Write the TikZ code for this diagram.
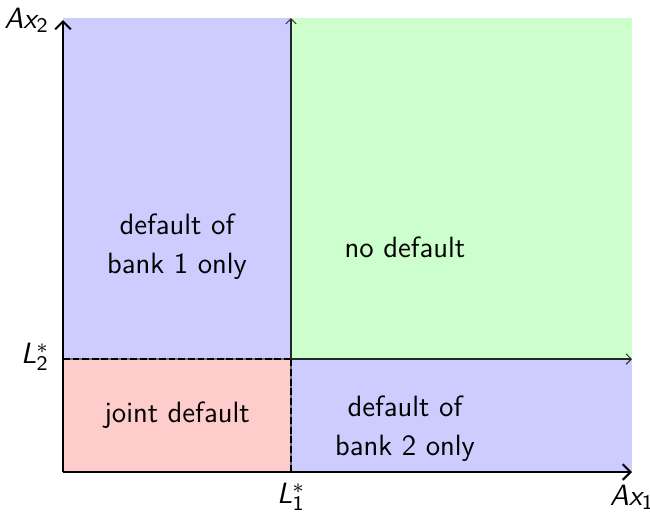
\documentclass[tikz,border=0pt]{standalone}
\usetikzlibrary{arrows.meta}
\definecolor{bluefill}{RGB}{204,204,255}
\definecolor{greenfill}{RGB}{204,255,204}
\definecolor{redfill}{RGB}{255,204,204}
\tikzset{
  axis/.style={thick,-{Straight Barb[length=3pt,width=6pt]}},
  thinarrow/.style={thin,black!85,-{Straight Barb[length=2pt,width=4pt]}},
  divider/.style={thin,dash pattern=on 2.6pt off 1.1pt},
  underline/.style={thin,black!55},
  region/.style={align=center,font=\fontsize{11.3}{15}\sffamily\selectfont},
  axlabel/.style={inner sep=1pt,font=\fontsize{11.3}{14}\sffamily\selectfont}
}
\begin{document}
\begin{tikzpicture}[x=0.385pt,y=-0.385pt]
\useasboundingbox (0,0) rectangle (650,511);
\fill[bluefill] (63,18) rectangle (291,359);
\fill[greenfill] (291,18) rectangle (632,359);
\fill[redfill] (63,359) rectangle (291,472);
\fill[bluefill] (291,359) rectangle (632,472);
\coordinate (O) at (63,472);
\coordinate (Ytop) at (63,20);
\coordinate (Xend) at (632,472);
\coordinate (L1) at (291,472);
\coordinate (L2) at (63,359);
\coordinate (C) at (291,359);
\coordinate (Ctop) at (291,18);
\coordinate (Cright) at (632,359);
\draw[underline] (L1) -- (C) -- (L2);
\draw[divider] (L1) -- (C);
\draw[divider] (L2) -- (C);
\draw[thinarrow] (C) -- (Ctop);
\draw[thinarrow] (C) -- (Cright);
\draw[axis] (O) -- (Ytop);
\draw[axis] (O) -- (Xend);
\node[region] (b1) at (177,247) {default of\\bank 1 only};
\node[region] (nd) at (405,247) {no default};
\node[region] (jd) at (177,415) {joint default};
\node[region] (b2) at (405,429) {default of\\bank 2 only};
\node[anchor=east,axlabel] (ax2) at (52,20) {\itshape Ax$_{\mathsf{2}}$};
\node[anchor=east,axlabel] (l2) at (52,357) {\itshape L$^{*}_{\mathsf{2}}$};
\node[anchor=north,axlabel] (l1) at (291,480) {\itshape L$^{*}_{\mathsf{1}}$};
\node[anchor=north,axlabel] (ax1) at (632,482) {\itshape Ax$_{\mathsf{1}}$};
\end{tikzpicture}
\end{document}
